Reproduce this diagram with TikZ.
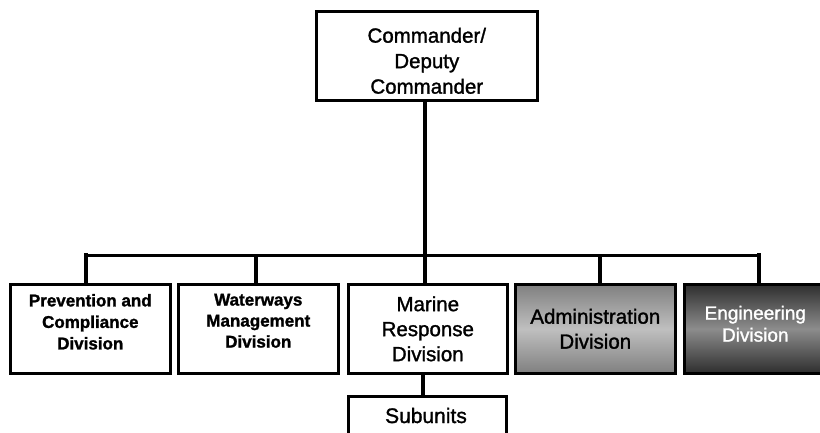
\documentclass[tikz,border=0pt]{standalone}
\usepackage{fontspec}
\setmainfont{Liberation Sans}[FakeBold=1.4]
\begin{document}
\begin{tikzpicture}[x=1pt,y=-1pt,
  box/.style={draw=black, line width=2.6pt, fill=white, inner sep=0pt, anchor=north west},
  txt/.style={inner sep=0pt, align=center},
  conn/.style={line width=3.6pt, draw=black},
  bus/.style={line width=3pt, draw=black},
  bigf/.style={font=\fontsize{20.5}{25.5}\selectfont},
  boldf/.style={font=\fontsize{17}{21.5}\selectfont\bfseries},
  midf/.style={font=\fontsize{20.5}{25}\selectfont}]
\useasboundingbox (0,0) rectangle (820,432);
\clip (0,0) rectangle (820,432);
\fill[white] (0,0) rectangle (820,432);

% boxes
\node[box, minimum width=221pt, minimum height=89pt] (cmd) at (315,10) {};
\node[box, minimum width=160pt, minimum height=89pt] (prev) at (9,283) {};
\node[box, minimum width=160pt, minimum height=89pt] (water) at (177,283) {};
\node[box, minimum width=159pt, minimum height=89pt] (marine) at (347,283) {};
\node[box, minimum width=160pt, minimum height=89pt, top color=black!50, bottom color=black!50, middle color=black!25] (admin) at (514,283) {};
\node[box, minimum width=142pt, minimum height=89pt, top color=black!82, bottom color=black!82, middle color=black!45] (eng) at (683,283) {};
\node[box, minimum width=158pt, minimum height=60pt] (sub) at (347,395) {};

% texts
\node[txt, bigf] (cmdt) at ([yshift=-5pt]cmd.center) {Commander/\\Deputy\\Commander};
\node[txt, boldf] (prevt) at ([yshift=7pt]prev.center) {Prevention and\\Compliance\\Division};
\node[txt, boldf, font=\fontsize{17}{21}\selectfont\bfseries] (watert) at ([yshift=8pt]water.center) {Waterways\\Management\\Division};
\node[txt, midf] (marinet) at (marine.center) {Marine\\Response\\Division};
\node[txt, midf] (admint) at (admin.center) {Administration\\Division};
\node[txt, font=\fontsize{19}{22}\selectfont, text=white] (engt) at ([yshift=5pt]eng.center) {Engineering\\Division};
\node[txt, font=\fontsize{21}{25}\selectfont, anchor=base] (subt) at (426,423) {Subunits};

% connectors
\coordinate (busL) at (86,255);
\coordinate (busR) at (759,255);
\draw[bus] (busL) -- (busR);
\draw[conn] (425,99) coordinate (ctop) -- (ctop |- marine.north);
\draw[conn, line cap=rect] (busL) -- (busL |- prev.north);
\draw[conn] (256,255) coordinate (b2) -- (b2 |- water.north);
\draw[conn] (600,255) coordinate (b4) -- (b4 |- admin.north);
\draw[conn, line cap=rect] (busR) -- (busR |- eng.north);
\draw[conn] (423,372) coordinate (m1) -- (m1 |- sub.north);
\end{tikzpicture}
\end{document}
